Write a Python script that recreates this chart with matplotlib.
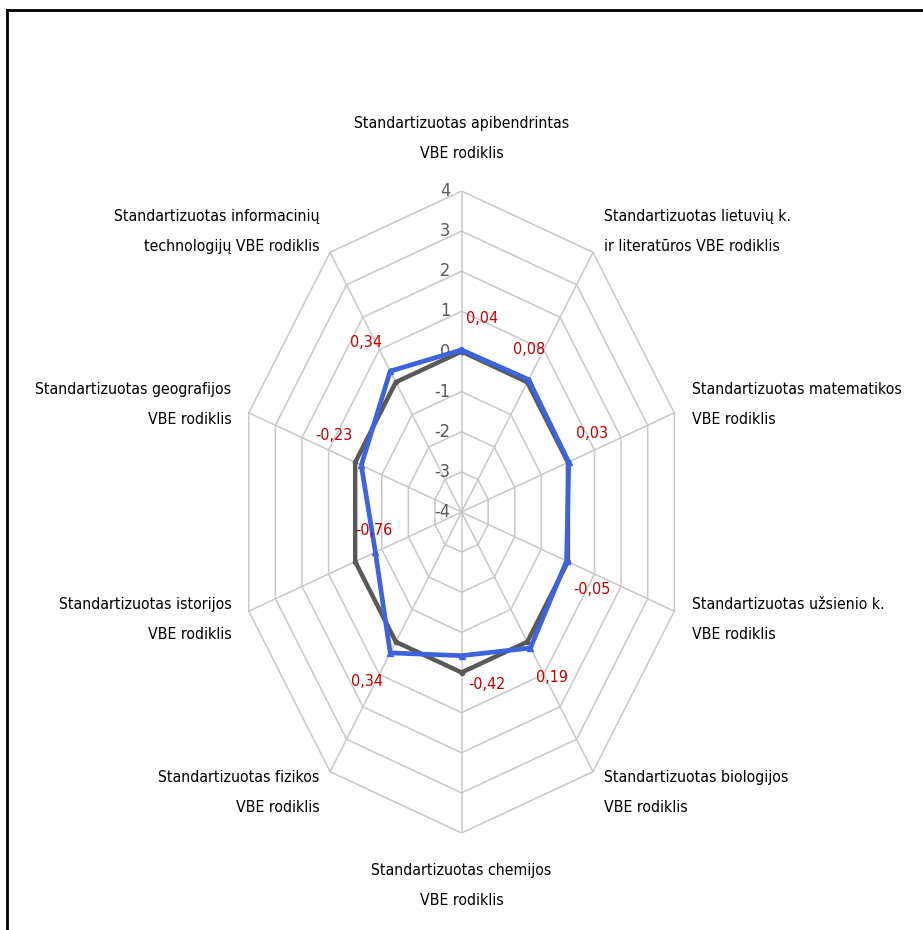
import numpy as np
import matplotlib.pyplot as plt
from matplotlib import font_manager as fm
from matplotlib.lines import Line2D

# look for a narrow / condensed face, the reference text is squeezed
narrow_path = None
for f in fm.fontManager.ttflist:
    nm = f.name.lower()
    st = str(f.stretch).lower()
    if f.style != 'normal' or f.weight not in (400, 'normal', 'regular', 'book'):
        continue
    if 'narrow' in nm or 'condensed' in nm or 'condensed' in st or 'narrow' in st:
        if narrow_path is None or 'liberation' in nm:
            narrow_path = f.fname
if narrow_path:
    font = fm.FontProperties(fname=narrow_path)
else:
    font = fm.FontProperties(family='Liberation Sans')

# data
categories = [
    'Standartizuotas apibendrintas\nVBE rodiklis',
    'Standartizuotas lietuvių k.\nir literatūros VBE rodiklis',
    'Standartizuotas matematikos\nVBE rodiklis',
    'Standartizuotas užsienio k.\nVBE rodiklis',
    'Standartizuotas biologijos\nVBE rodiklis',
    'Standartizuotas chemijos\nVBE rodiklis',
    'Standartizuotas fizikos\nVBE rodiklis',
    'Standartizuotas istorijos\nVBE rodiklis',
    'Standartizuotas geografijos\nVBE rodiklis',
    'Standartizuotas informacinių\ntechnologijų VBE rodiklis',
]
school = [0.04, 0.08, 0.03, -0.05, 0.19, -0.42, 0.34, -0.76, -0.23, 0.34]
national = [0, 0, 0, 0, 0, 0, 0, 0, 0, 0]
ticks = [-4, -3, -2, -1, 0, 1, 2, 3, 4]

# pixel offsets of the value labels (layout only)
label_off = [(21, 31), (0, 30), (23, 29), (25, -29), (22, -29),
             (25, -29), (-23, -29), (-2, 22), (-27, 30), (-24, 29)]

vmin, vmax = ticks[0], ticks[-1]
R = vmax - vmin
n = len(categories)
theta = np.arange(n) * 2 * np.pi / n

def xy(vals):
    r = np.asarray(vals, float) - vmin
    return r * np.sin(theta), r * np.cos(theta)

fig = plt.figure(figsize=(9.23, 9.30), dpi=100)
ax = fig.add_axes([0.2577, 0.1043, 0.4847, 0.6903])
ax.set_xlim(-R, R)
ax.set_ylim(-R, R)
ax.axis('off')

grid_c = '#C8C8C8'
for t in ticks[1:]:
    gx, gy = xy([t] * n)
    ax.plot(np.append(gx, gx[0]), np.append(gy, gy[0]), color=grid_c, lw=1.1, zorder=1)
ox, oy = xy([vmax] * n)
for i in range(n):
    ax.plot([0, ox[i]], [0, oy[i]], color=grid_c, lw=1.1, zorder=1)

def fp(size):
    p = font.copy()
    p.set_size(size)
    return p

for t in ticks:
    ax.text(-0.4, t - vmin, str(t), ha='right', va='center', fontproperties=fp(13),
            color='#595959', zorder=2)

nx, ny = xy(national)
ax.plot(np.append(nx, nx[0]), np.append(ny, ny[0]), color='#595959', lw=3.2,
        marker='o', ms=3, zorder=3)
sx, sy = xy(school)
ax.plot(np.append(sx, sx[0]), np.append(sy, sy[0]), color='#3D63DD', lw=3.4,
        marker='^', ms=4, zorder=4)

for i, v in enumerate(school):
    dx, dy = label_off[i]
    ax.annotate(f'{v:.2f}'.replace('.', ','), (sx[i], sy[i]),
                xytext=(dx * 0.72, dy * 0.72), textcoords='offset points',
                ha='center', va='center', fontproperties=fp(11.5), color='#C00000',
                zorder=5)

for i, lab in enumerate(categories):
    s = np.sin(theta[i])
    if abs(s) < 1e-6:
        r_lab = 9.3
        ha = 'center'
    else:
        r_lab = 8.65
        ha = 'left' if s > 0 else 'right'
    ax.text(r_lab * s, r_lab * np.cos(theta[i]), lab, ha=ha, va='center',
            multialignment=ha, fontproperties=fp(11.3), color='black',
            linespacing=2.25, clip_on=False)

# frame around the chart area
fig.add_artist(Line2D([7 / 923, 7 / 923], [0, 1 - 10 / 930], color='black', lw=2,
                      transform=fig.transFigure))
fig.add_artist(Line2D([7 / 923, 1], [1 - 10 / 930, 1 - 10 / 930], color='black', lw=2,
                      transform=fig.transFigure))

fig.savefig('out.png', dpi=100)
